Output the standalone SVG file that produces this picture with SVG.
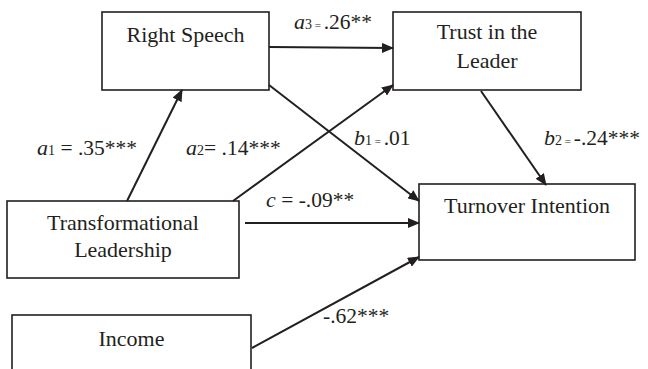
<svg xmlns="http://www.w3.org/2000/svg" width="648" height="369" viewBox="0 0 648 369">
<style>
.box{fill:#fff;stroke:#231f20;stroke-width:1.6}
.node{font-family:'Liberation Serif','Times New Roman',serif;font-size:22px;fill:#231f20;text-anchor:middle}
.lbl{font-family:'Liberation Serif','Times New Roman',serif;font-size:21.5px;fill:#231f20}
.it{font-style:italic;font-size:22px}
.sub{font-size:14px}
.sm{font-size:11px}
.conn line{stroke:#231f20;stroke-width:2;marker-end:url(#arr)}
</style>
<defs>
<marker id="arr" viewBox="0 0 12 10" refX="11" refY="5" markerWidth="12" markerHeight="10" markerUnits="userSpaceOnUse" orient="auto">
<path d="M0,0 L12,5 L0,10 Z" fill="#231f20"/>
</marker>
</defs>
<rect width="648" height="369" fill="#fff"/>
<g id="right-speech"><rect class="box" x="102" y="12" width="167" height="78"/><text class="node" x="185.5" y="42">Right Speech</text></g>
<g id="trust"><rect class="box" x="393" y="12" width="188" height="78"/><text class="node" x="487" y="39">Trust in the</text><text class="node" x="487" y="68">Leader</text></g>
<g id="transformational"><rect class="box" x="7" y="201" width="232" height="77"/><text class="node" x="123" y="230">Transformational</text><text class="node" x="123" y="257">Leadership</text></g>
<g id="income"><rect class="box" x="12" y="315" width="239" height="70"/><text class="node" x="131.5" y="346">Income</text></g>
<g id="turnover"><rect class="box" x="419" y="184" width="216" height="76"/><text class="node" x="527" y="213">Turnover Intention</text></g>
<g class="conn" id="connectors">
<line x1="127" y1="201" x2="182" y2="90"/>
<line x1="233" y1="201" x2="393" y2="85"/>
<line x1="269" y1="47" x2="393" y2="48"/>
<line x1="269" y1="85" x2="419" y2="201"/>
<line x1="481" y1="91" x2="546" y2="185"/>
<line x1="245" y1="223" x2="419" y2="223"/>
<line x1="252" y1="348" x2="419" y2="257"/>
</g>
<g id="labels">
<text class="lbl" x="37" y="155"><tspan class="it">a</tspan><tspan class="sub">1</tspan> = .35***</text>
<text class="lbl" x="186" y="155"><tspan class="it">a</tspan><tspan class="sub">2</tspan>= .14***</text>
<text class="lbl" x="294" y="29"><tspan class="it">a</tspan><tspan class="sub">3</tspan><tspan class="sm"> = </tspan>.26**</text>
<text class="lbl" x="354" y="145"><tspan class="it">b</tspan><tspan class="sub">1</tspan><tspan class="sm"> = </tspan>.01</text>
<text class="lbl" x="544" y="145"><tspan class="it">b</tspan><tspan class="sub">2</tspan><tspan class="sm"> =  </tspan> -.24***</text>
<text class="lbl" x="266" y="207"><tspan class="it">c</tspan> = -.09**</text>
<text class="lbl" x="323" y="323">-.62***</text>
</g>
</svg>
